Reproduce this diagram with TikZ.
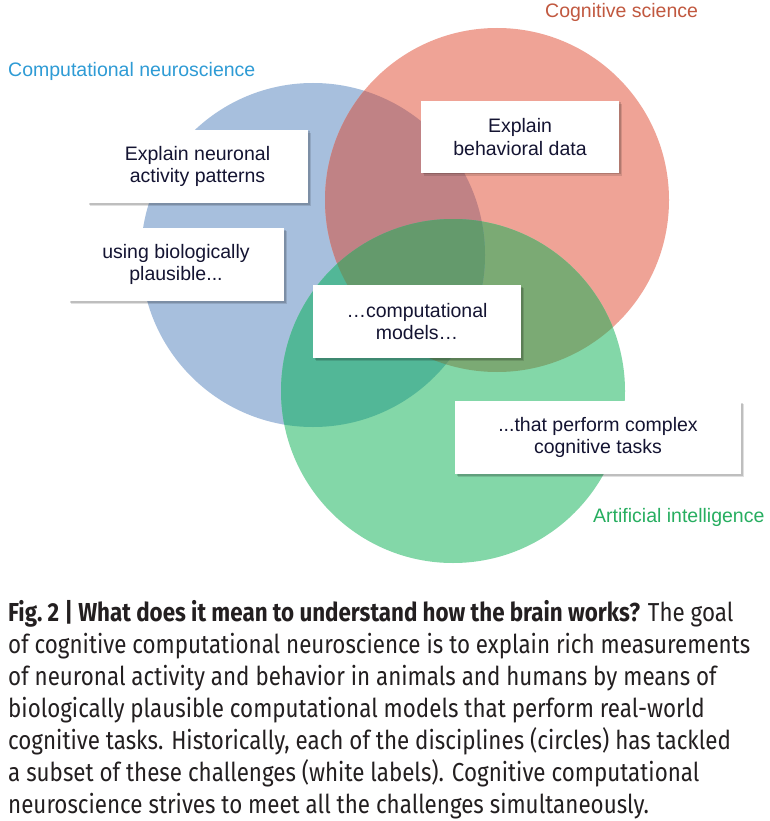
\documentclass[tikz,border=0pt]{standalone}
\usepackage{fontspec}
\setmainfont{Liberation Sans}
\newfontfamily\capfont[FakeStretch=0.86]{Fira Sans}
\definecolor{cnblue}{RGB}{167,191,221}
\definecolor{csred}{RGB}{239,163,150}
\definecolor{aigreen}{RGB}{131,215,168}
\definecolor{brmix}{RGB}{192,130,133}
\definecolor{bgmix}{RGB}{82,183,151}
\definecolor{rgmix}{RGB}{123,170,116}
\definecolor{brgmix}{RGB}{100,154,108}
\definecolor{cntext}{RGB}{46,155,213}
\definecolor{cstext}{RGB}{193,88,63}
\definecolor{aitext}{RGB}{39,174,96}
\definecolor{boxtext}{RGB}{20,20,50}
\definecolor{captext}{RGB}{35,31,32}
\newcommand{\circR}{172pt}

\begin{document}
\begin{tikzpicture}[x=1pt, y=-1pt,
    every node/.style={font=\fontsize{19.5}{22.5}\selectfont},
    box/.style={fill=white, align=center, text=boxtext, minimum height=73pt, inner sep=0pt,
      preaction={fill=black, opacity=0.12, transform canvas={xshift=3pt, yshift=-3pt}},
      preaction={fill=black, opacity=0.15, transform canvas={xshift=1.5pt, yshift=-1.5pt}}},
    lab/.style={anchor=west, inner sep=0pt}]
  \useasboundingbox (0,0) rectangle (769,821);
  \fill[white] (0,0) rectangle (769,821);
  % circle centres
  \coordinate (cn) at (313,255);
  \coordinate (cs) at (497,200);
  \coordinate (ai) at (453,391);
  % discipline circles and their overlaps
  \fill[cnblue] (cn) circle (\circR);
  \fill[csred] (cs) circle (\circR);
  \fill[aigreen] (ai) circle (\circR);
  \begin{scope}
    \clip (cs) circle (\circR);
    \fill[rgmix] (ai) circle (\circR);
  \end{scope}
  \begin{scope}
    \clip (cn) circle (\circR);
    \fill[brmix] (cs) circle (\circR);
    \fill[bgmix] (ai) circle (\circR);
    \clip (cs) circle (\circR);
    \fill[brgmix] (ai) circle (\circR);
  \end{scope}
  % discipline labels
  \node[lab, text=cntext] (cnlab) at (8,71) {Computational neuroscience};
  \node[lab, text=cstext] (cslab) at (545,12) {Cognitive science};
  \node[lab, text=aitext] (ailab) at (593,517) {Artificial intelligence};
  % challenge labels
  \node[box, minimum width=221pt] (neuronal) at (197.5,166.5) {Explain neuronal\\activity patterns};
  \node[box, minimum width=216pt] (plausible) at (176,264.5) {using biologically\\plausible...};
  \node[box, minimum width=198pt, minimum height=72pt] (behavior) at (520,137) {Explain\\behavioral data};
  \node[box, minimum width=208pt] (models) at (417,321.5) {…computational\\models…};
  \node[box, minimum width=286pt] (tasks) at (598,437.5) {...that perform complex\\cognitive tasks};
  % caption
  \node[anchor=north west, inner sep=0pt, align=left, text=captext,
    font=\capfont\fontsize{26}{32}\selectfont] (caption) at (8,600) {%
    {\bfseries Fig.~2 | What does it mean to understand how the brain works?} The goal\\
    of cognitive computational neuroscience is to explain rich measurements\\
    of neuronal activity and behavior in animals and humans by means of\\
    biologically plausible computational models that perform real-world\\
    cognitive tasks. Historically, each of the disciplines (circles) has tackled\\
    a subset of these challenges (white labels). Cognitive computational\\
    neuroscience strives to meet all the challenges simultaneously.};
\end{tikzpicture}
\end{document}
